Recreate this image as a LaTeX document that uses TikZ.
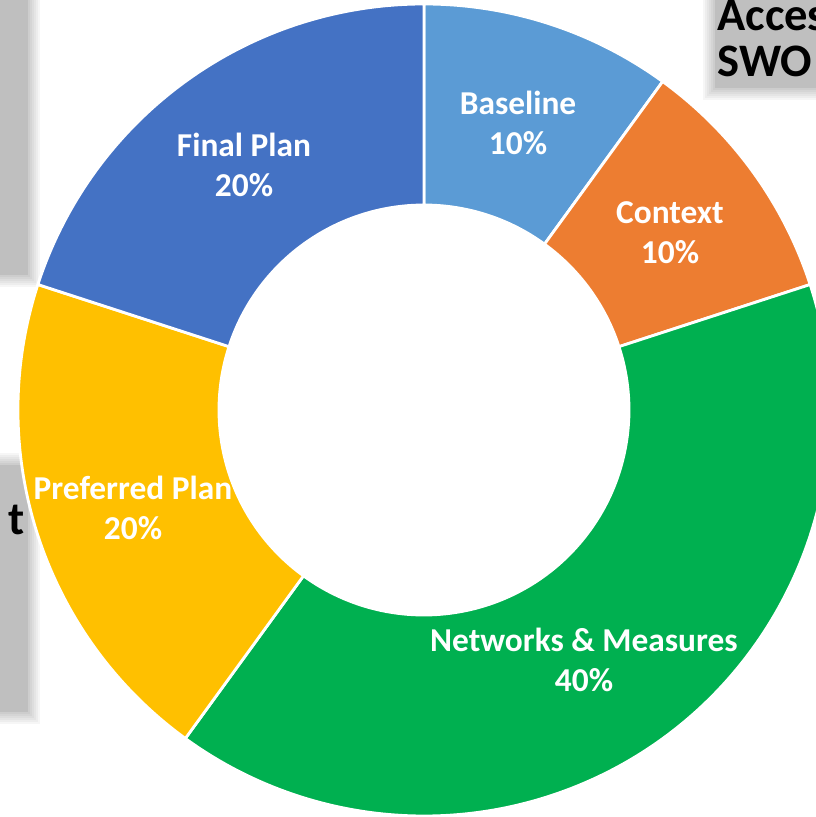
\documentclass[tikz,border=0pt]{standalone}
\usepackage{fontspec}
\setmainfont{Carlito}
\usetikzlibrary{calc, positioning}
\usepackage{xcolor}
\definecolor{cbase}{HTML}{5B9BD5}
\definecolor{ccontext}{HTML}{ED7D31}
\definecolor{cnet}{HTML}{00B050}
\definecolor{cpref}{HTML}{FFC000}
\definecolor{cfinal}{HTML}{4472C4}
\definecolor{cbox}{HTML}{BFBFBF}

\begin{document}
\begin{tikzpicture}[x=0.02cm, y=0.02cm]
				\tikzstyle{seg} = [draw=white, line width=1.6pt, line join=round]
				\tikzstyle{lbl} = [text=white, font=\fontsize{19}{22.8}\selectfont\bfseries, align=center]
				\tikzstyle{side} = [text=black, font=\fontsize{26.5}{26}\selectfont\bfseries, align=left]
				\useasboundingbox (-424,-407) rectangle (391,410);
				
				% grey boxes behind the ring
				\foreach \s in {12,10,8,6,4,2}
				{
					\fill[black, opacity=0.035] (-430,410) rectangle (-396+\s,135-\s);
					\fill[black, opacity=0.035] (-430,-55+\s) rectangle (-396+\s,-302-\s);
					\fill[black, opacity=0.035] (291-\s,420) rectangle (400,322-\s);
				}
				\fill[cbox] (-430,410) rectangle (-396,135);
				\fill[cbox] (-430,-55) rectangle (-396,-302);
				\fill[cbox] (291,420) rectangle (400,322);
				
				% ring
				\filldraw[seg, fill=cbase]    (90:406)  arc (90:54:406)   -- (54:205)   arc (54:90:205)   -- cycle;
				\filldraw[seg, fill=ccontext] (54:406)  arc (54:18:406)   -- (18:205)   arc (18:54:205)   -- cycle;
				\filldraw[seg, fill=cnet]     (18:406)  arc (18:-126:406) -- (-126:205) arc (-126:18:205) -- cycle;
				\filldraw[seg, fill=cpref]    (234:406) arc (234:162:406) -- (162:205)  arc (162:234:205) -- cycle;
				\filldraw[seg, fill=cfinal]   (162:406) arc (162:90:406)  -- (90:205)   arc (90:162:205)  -- cycle;
				
				\node[lbl] at (94, 287)   (base)  {Baseline\\10\%};
				\node[lbl] at (246, 177)  (ctx)   {Context\\10\%};
				\node[lbl] at (160, -250) (net)   {Networks \& Measures\\40\%};
				\node[lbl] at (-291, -98) (pref)  {Preferred Plan\\20\%};
				\node[lbl] at (-180, 245) (final) {Final Plan\\20\%};
				
				\node[side, anchor=north west, inner sep=0pt] at (293, 410) (acc) {Acces\\SWO};
				\node[side, anchor=east, inner sep=0pt]       at (-399, -110) (tt)  {t};
			\end{tikzpicture}
\end{document}
